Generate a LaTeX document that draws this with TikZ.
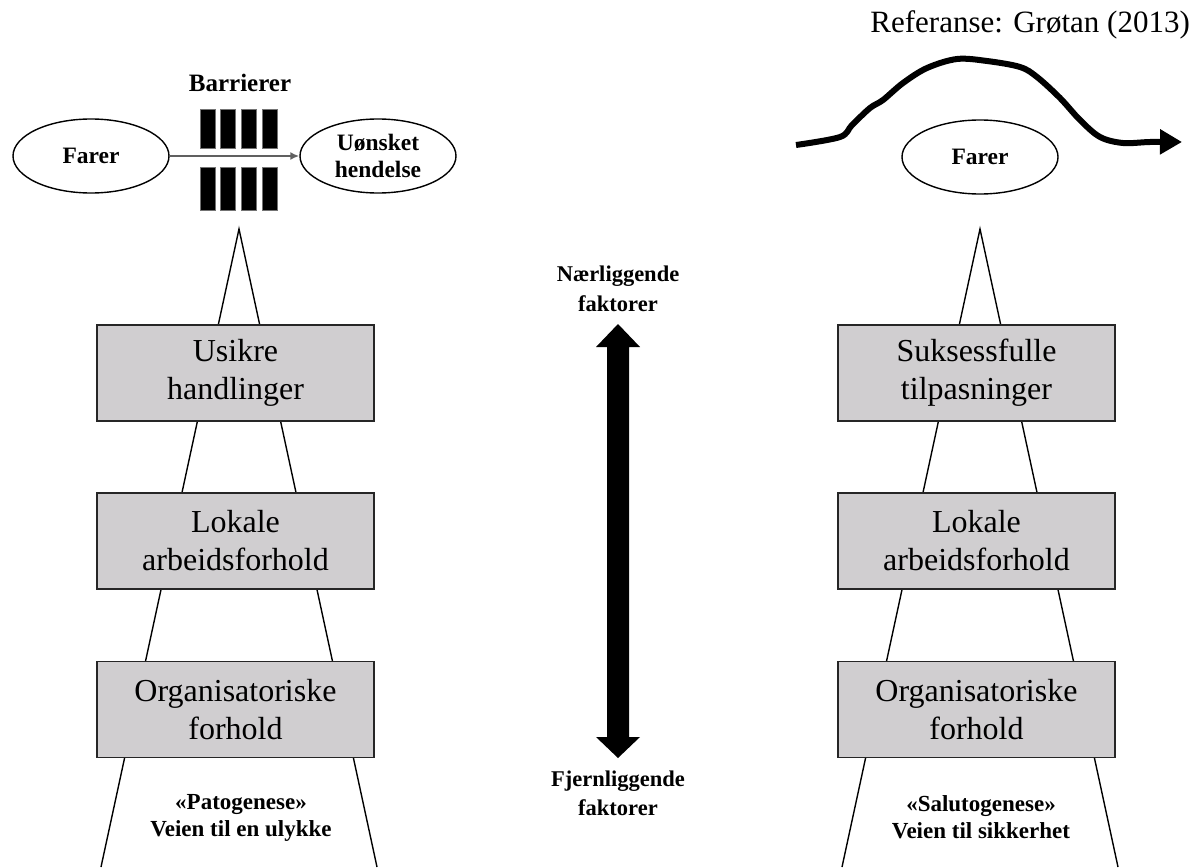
\documentclass[tikz,border=0pt]{standalone}
\usepackage{fontspec}
\setmainfont{Liberation Serif}
\usetikzlibrary{arrows.meta,shapes.geometric}
\definecolor{boxgray}{RGB}{208,206,208}
\begin{document}
\begin{tikzpicture}[x=1pt,y=-1pt,
  factorbox/.style={draw=black!85, line width=1.6pt, fill=boxgray,
    minimum width=277pt, minimum height=96pt, inner sep=0pt, align=center,
    font=\fontsize{32}{38}\selectfont},
  hazard/.style={ellipse, draw, line width=1.4pt, minimum width=156pt,
    minimum height=74pt, inner sep=0pt, align=center,
    font=\bfseries\fontsize{23.5}{27}\selectfont},
  conearm/.style={line width=1.4pt},
  caption/.style={align=center, inner sep=0pt, font=\bfseries\fontsize{23}{27}\selectfont},
  barrier/.style={fill=black, draw=black!55, line width=0.9pt}
]
\useasboundingbox (0,0) rectangle (1193,867);

% ---------- reference ----------
\node[anchor=base east, inner sep=0pt, font=\fontsize{31}{36}\selectfont]
  (ref) at (1190,33) {Referanse: Grøtan (2013)};

% ---------- left: pathogenesis ----------
\coordinate (apexL) at (239,229);
\coordinate (footLL) at (101,867);
\coordinate (footLR) at (377,867);
\draw[conearm] (footLL) -- (apexL) -- (footLR);

\node[factorbox] (unsafe) at (235.5,373) {Usikre\\handlinger};
\node[factorbox] (localL) at (235.5,541) {Lokale\\arbeidsforhold};
\node[factorbox] (orgL)   at (235.5,709.5) {Organisatoriske\\forhold};

\node[hazard] (hazL) at (91,156) {Farer};
\node[hazard] (event) at (378,156) {Uønsket\\hendelse};
\draw[gray!75!black, line width=2.8pt, -{Latex[length=9pt,width=8pt]}]
  (hazL.east) -- (event.west);

% barrier blocks
\foreach \bx in {200,220.5,241,262}{
  \fill[barrier] (\bx,109) rectangle ++(15,39);
  \fill[barrier] (\bx,167) rectangle ++(15,43);
}
\node[caption, anchor=base, font=\bfseries\fontsize{25}{29}\selectfont]
  (barr) at (240,92) {Barrierer};

\node[caption] (patho) at (241,818) {«Patogenese»\\Veien til en ulykke};

% ---------- middle: proximal / distal ----------
\node[caption, font=\bfseries\fontsize{22.5}{30}\selectfont] (near) at (618,289)
  {Nærliggende\\faktorer};
\node[caption, font=\bfseries\fontsize{22.5}{29}\selectfont] (far) at (618,793)
  {Fjernliggende\\faktorer};
\fill (618,324) -- (640,347) -- (629,347) -- (629,737) -- (640,737)
  -- (618,758) -- (596,737) -- (607,737) -- (607,347) -- (596,347) -- cycle;

% ---------- right: salutogenesis ----------
\coordinate (apexR) at (980,229);
\coordinate (footRL) at (842,867);
\coordinate (footRR) at (1118,867);
\draw[conearm] (footRL) -- (apexR) -- (footRR);

\node[factorbox] (adapt)  at (976.5,373) {Suksessfulle\\tilpasninger};
\node[factorbox] (localR) at (976.5,541) {Lokale\\arbeidsforhold};
\node[factorbox] (orgR)   at (976.5,709.5) {Organisatoriske\\forhold};

\node[hazard] (hazR) at (980,157) {Farer};
\draw[line width=6pt, line join=round, -{Triangle[length=22pt,width=24pt]}]
  plot[smooth, tension=0.55] coordinates {
    (796,145) (840,137) (852,125) (870,108) (883,100) (903,83) (927,68)
    (957,59) (987,61) (1020,67) (1037,77) (1060,98) (1080,120) (1100,137)
    (1123,143) (1150,142) (1182,142)};

\node[caption] (saluto) at (981,817) {«Salutogenese»\\Veien til sikkerhet};
\end{tikzpicture}
\end{document}
